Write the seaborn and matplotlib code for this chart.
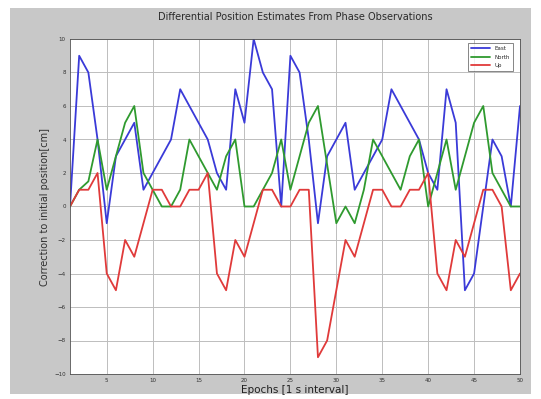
import numpy as np
import pandas as pd
import matplotlib
matplotlib.use("Agg")
import matplotlib.pyplot as plt
import seaborn as sns
from matplotlib.patches import Rectangle

epochs = list(range(1, 51))
east = [0, 9, 8, 4, -1, 3, 4, 5, 1, 2, 3, 4, 7, 6, 5, 4, 2, 1, 7, 5,
        10, 8, 7, 0, 9, 8, 4, -1, 3, 4, 5, 1, 2, 3, 4, 7, 6, 5, 4, 2,
        1, 7, 5, -5, -4, 0, 4, 3, 0, 6]
north = [0, 1, 1.5, 4, 1, 3, 5, 6, 2, 1, 0, 0, 1, 4, 3, 2, 1, 3, 4, 0,
         0, 1, 2, 4, 1, 3, 5, 6, 2.5, -1, 0, -1, 1, 4, 3, 2, 1, 3, 4, 0,
         2, 4, 1, 3, 5, 6, 2, 1, 0, 0]
up = [0, 1, 1, 2, -4, -5, -2, -3, -1, 1, 1, 0, 0, 1, 1, 2, -4, -5, -2, -3,
      -1, 1, 1, 0, 0, 1, 1, -9, -8, -5, -2, -3, -1, 1, 1, 0, 0, 1, 1, 2,
      -4, -5, -2, -3, -1, 1, 1, 0, -5, -4]
series_names = ["East", "North", "Up"]
xticks = [5, 10, 15, 20, 25, 30, 35, 40, 45, 50]
yticks = [-10, -8, -6, -4, -2, 0, 2, 4, 6, 8, 10]

df = pd.DataFrame({
    "epoch": epochs * 3,
    "value": east + north + up,
    "comp": [series_names[0]] * 50 + [series_names[1]] * 50 + [series_names[2]] * 50,
})

sns.set_style("white")
W, H = 541, 399
fig = plt.figure(figsize=(W / 100, H / 100), dpi=100, facecolor="white")
fig.patches.append(Rectangle((10 / W, 1 - 394 / H), (531 - 10) / W, (394 - 8) / H,
                             transform=fig.transFigure, facecolor="#c8c8c8",
                             edgecolor="none", zorder=-10))
ax = fig.add_axes([70 / W, 1 - 374 / H, (520 - 70) / W, (374 - 39) / H])
ax.set_facecolor("white")

palette = {"East": "#3a3ad8", "North": "#2f9a2f", "Up": "#e03a3a"}
sns.lineplot(data=df, x="epoch", y="value", hue="comp", palette=palette,
             linewidth=1.3, ax=ax, legend=True)

ax.set_xlim(1, 50)
ax.set_ylim(-10, 10)
ax.set_xticks(xticks)
ax.set_yticks(yticks)
ax.grid(True, color="#bdbdbd", linewidth=0.7, linestyle="-")
ax.set_axisbelow(True)
ax.tick_params(direction="in", length=3, labelsize=4, colors="#303030", pad=3)
for s in ax.spines.values():
    s.set_color("#505050")
    s.set_linewidth(0.6)

ax.set_title("Differential Position Estimates From Phase Observations",
             fontsize=7, color="#2a2a2a", pad=14)
ax.set_xlabel("Epochs [1 s interval]", fontsize=7.5, color="#202020", labelpad=1)
ax.set_ylabel("Correction to initial position[cm]", fontsize=7, color="#303030", labelpad=3)

leg = ax.legend(loc="upper right", fontsize=4, frameon=True, fancybox=False,
                edgecolor="#505050", borderpad=0.5, handlelength=3.5,
                labelspacing=0.6, bbox_to_anchor=(0.99, 0.995))
leg.get_frame().set_linewidth(0.6)

fig.savefig("out.png", dpi=100)
